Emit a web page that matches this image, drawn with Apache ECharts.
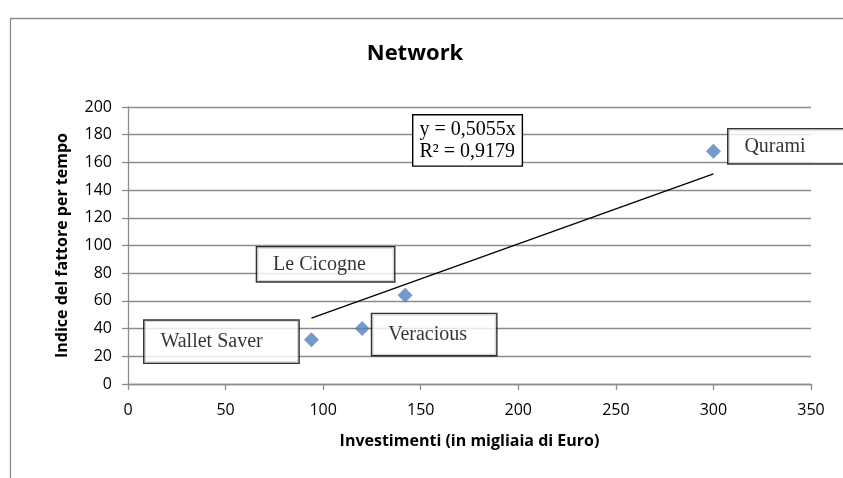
<!DOCTYPE html>
<html lang="it">
  <head>
    <meta charset="UTF-8" />
    <title>Network</title>
    <script src="https://cdn.jsdelivr.net/npm/echarts@6/dist/echarts.min.js"></script>
    <style>
      html, body { margin: 0; padding: 0; background: #fff; }
    </style>
  </head>
  <body>
    <div id="main" style="width: 843px; height: 478px"></div>

    <script>
      const myChart = echarts.init(document.getElementById("main"));

      // dati
      var aziende = ["Wallet Saver", "Veracious", "Le Cicogne", "Qurami"];
      var investimenti = [94, 120, 142, 300];
      var indice = [32, 40, 64, 168];
      var pendenza = 0.5055;
      var r2 = 0.9179;
      var ticksX = [0, 50, 100, 150, 200, 250, 300, 350];
      var ticksY = [0, 20, 40, 60, 80, 100, 120, 140, 160, 180, 200];

      // posizione dei riquadri delle etichette rispetto al punto
      var boxEtichette = {
        "Wallet Saver": { offset: [-167, 2], w: 154, h: 42 },
        Veracious: { offset: [10, 6], w: 124, h: 41 },
        "Le Cicogne": { offset: [-148, -31], w: 137, h: 34 },
        Qurami: { offset: [15, -5], w: 116, h: 34 },
      };

      var serif = "'Liberation Serif', 'Times New Roman', serif";
      var sans = "'Open Sans', 'Noto Sans', sans-serif";
      var grigio = "#8c8c8c";

      var punti = aziende.map(function (nome, i) {
        var b = boxEtichette[nome];
        return {
          name: nome,
          value: [investimenti[i], indice[i]],
          label: {
            show: true,
            formatter: nome,
            position: "inside",
            align: "left",
            verticalAlign: "middle",
            offset: b.offset,
            width: b.w - 16,
            height: b.h,
            lineHeight: b.h,
            padding: [0, 0, 0, 16],
            backgroundColor: "#fff",
            borderColor: "#000",
            borderWidth: 1.4,
            color: "#000",
            fontFamily: serif,
            fontSize: 20,
          },
        };
      });

      var xMin = Math.min.apply(null, investimenti);
      var xMax = Math.max.apply(null, investimenti);
      var tendenza = [
        [xMin, pendenza * xMin],
        [xMax, pendenza * xMax],
      ];

      var options = {
        animation: false,
        title: {
          text: "Network",
          left: 410,
          top: 38,
          textAlign: "center",
          textStyle: { fontFamily: sans, fontSize: 22, fontWeight: "bold", color: "#000" },
        },
        grid: { left: 128, right: 32, top: 107, bottom: 94 },
        xAxis: {
          type: "value",
          min: ticksX[0],
          max: ticksX[ticksX.length - 1],
          interval: 50,
          name: "Investimenti (in migliaia di Euro)",
          nameLocation: "middle",
          nameGap: 49,
          nameTextStyle: { fontFamily: sans, fontSize: 16, fontWeight: "bold", color: "#000" },
          axisLine: { show: true, lineStyle: { color: grigio, width: 1.3 } },
          axisTick: { show: true, inside: false, length: 6, lineStyle: { color: grigio, width: 1.3 } },
          axisLabel: { fontFamily: sans, fontSize: 16, color: "#000", margin: 18 },
          splitLine: { show: false },
        },
        yAxis: {
          type: "value",
          min: ticksY[0],
          max: ticksY[ticksY.length - 1],
          interval: 20,
          name: "Indice del fattore per tempo",
          nameLocation: "middle",
          nameGap: 58,
          nameTextStyle: { fontFamily: sans, fontSize: 16, fontWeight: "bold", color: "#000" },
          axisLine: { show: true, lineStyle: { color: grigio, width: 1.3 } },
          axisTick: { show: true, inside: false, length: 6, lineStyle: { color: grigio, width: 1.3 } },
          axisLabel: { fontFamily: sans, fontSize: 16, color: "#000", margin: 16 },
          splitLine: { show: true, lineStyle: { color: grigio, width: 1.3 } },
        },
        series: [
          {
            type: "line",
            data: tendenza,
            symbol: "none",
            lineStyle: { color: "#000", width: 1.3 },
            z: 3,
          },
          {
            type: "scatter",
            data: punti,
            symbol: "diamond",
            symbolSize: 15,
            itemStyle: { color: "#4f81bd" },
            z: 4,
          },
        ],
        graphic: [
          {
            type: "rect",
            left: 8,
            top: 16,
            shape: { width: 900, height: 520 },
            style: { fill: "none", stroke: grigio, lineWidth: 1.3 },
            silent: true,
          },
          {
            type: "text",
            left: 412,
            top: 114,
            z: 10,
            style: {
              text: "y = " + String(pendenza).replace(".", ",") + "x\nR² = " + String(r2).replace(".", ","),
              fontFamily: serif,
              fontSize: 20,
              lineHeight: 22,
              fill: "#000",
              backgroundColor: "#fff",
              borderColor: "#000",
              borderWidth: 1.4,
              padding: [3, 6, 3, 6],
            },
          },
        ],
      };

      myChart.setOption(options);
    </script>
  </body>
</html>
